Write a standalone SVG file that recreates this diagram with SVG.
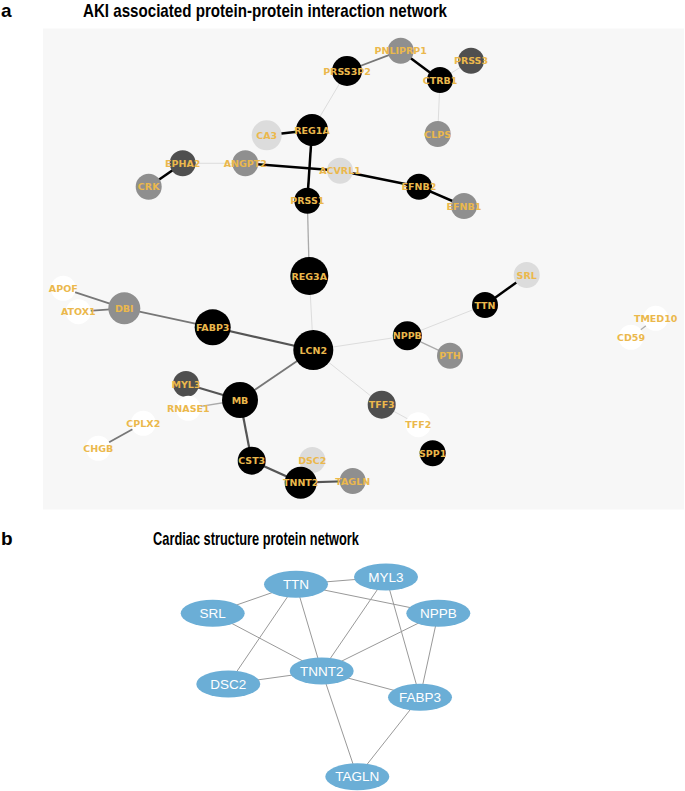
<svg xmlns="http://www.w3.org/2000/svg" width="685" height="791" viewBox="0 0 685 791">
<style>
.title{font-family:"Liberation Sans",Arial,sans-serif;font-weight:bold;font-size:19px;fill:#000}
.lbl{font-family:"DejaVu Sans",sans-serif;font-weight:bold;font-size:9.5px;fill:#ebb84c;text-anchor:middle;dominant-baseline:central}
.blk{fill:#000}.dk{fill:#4f4f4f}.md{fill:#8f8f8f}.lt{fill:#dcdcdc}.wh{fill:#fff}
.e0{stroke:#000;stroke-width:2.5}
.e1{stroke:#555;stroke-width:2.2}
.e2{stroke:#777;stroke-width:1.8}
.e3{stroke:#aaa;stroke-width:1.3}
.e4{stroke:#ddd;stroke-width:1}
.bl line{stroke:#999;stroke-width:1}
.bn ellipse{fill:#6baed6}
.bt{font-family:"Liberation Sans",Arial,sans-serif;font-size:13.5px;fill:#fff;text-anchor:middle;dominant-baseline:central}
</style>
<rect width="685" height="791" fill="#fff"/>
<text class="title" x="1" y="17">a</text>
<text class="title" x="83" y="17" textLength="364" lengthAdjust="spacingAndGlyphs">AKI associated protein-protein interaction network</text>
<rect x="43" y="28.5" width="641" height="481" fill="#f7f7f7"/>
<g id="edges-a" fill="none">
<line class="e2" x1="347" y1="71" x2="400.7" y2="50.7"/>
<line class="e0" x1="400.7" y1="50.7" x2="440" y2="80"/>
<line class="e4" x1="440" y1="80" x2="471" y2="60.7"/>
<line class="e4" x1="440" y1="80" x2="437.7" y2="134"/>
<line class="e4" x1="347" y1="71" x2="312" y2="130"/>
<line class="e0" x1="266.7" y1="135.3" x2="312" y2="130"/>
<line class="e0" x1="312" y1="130" x2="307.3" y2="200.7"/>
<line class="e0" x1="245.3" y1="163.3" x2="340" y2="170.7"/>
<line class="e0" x1="340" y1="170.7" x2="419" y2="186.7"/>
<line class="e4" x1="182.7" y1="163.3" x2="245.3" y2="163.3"/>
<line class="e0" x1="182.7" y1="163.3" x2="148.7" y2="186.7"/>
<line class="e0" x1="419" y1="186.7" x2="464" y2="206"/>
<line class="e3" x1="307.3" y1="200.7" x2="309.3" y2="276"/>
<line class="e4" x1="309.3" y1="276" x2="313.3" y2="350"/>
<line class="e2" x1="63.3" y1="288.3" x2="124.3" y2="308.3"/>
<line class="e2" x1="78.3" y1="311.7" x2="124.3" y2="308.3"/>
<line class="e2" x1="124.3" y1="308.3" x2="212.7" y2="327.3"/>
<line class="e1" x1="212.7" y1="327.3" x2="313.3" y2="350"/>
<line class="e2" x1="313.3" y1="350" x2="240" y2="400"/>
<line class="e1" x1="186" y1="384" x2="240" y2="400"/>
<line class="e3" x1="188.3" y1="408.3" x2="240" y2="400"/>
<line class="e0" x1="526.7" y1="275" x2="485" y2="305"/>
<line class="e4" x1="485" y1="305" x2="407.3" y2="335.7"/>
<line class="e4" x1="407.3" y1="335.7" x2="313.3" y2="350"/>
<line class="e3" x1="407.3" y1="335.7" x2="450" y2="355.7"/>
<line class="e4" x1="313.3" y1="350" x2="381.7" y2="404.7"/>
<line class="e4" x1="381.7" y1="404.7" x2="418.3" y2="424.7"/>
<line class="e3" x1="655.7" y1="318.3" x2="631" y2="337.3"/>
<line class="e1" x1="240" y1="400" x2="251.7" y2="460.7"/>
<line class="e1" x1="251.7" y1="460.7" x2="300.7" y2="482.7"/>
<line class="e1" x1="300.7" y1="482.7" x2="352.7" y2="481"/>
<line class="e2" x1="143.3" y1="423.3" x2="98.3" y2="448.3"/>
</g>
<g id="n-PNLIPRP1"><circle class="md" cx="400.7" cy="50.7" r="13"/><text class="lbl" x="400.7" y="50.7">PNLIPRP1</text></g>
<g id="n-PRSS3P2"><circle class="blk" cx="347" cy="71" r="15"/><text class="lbl" x="347" y="71">PRSS3P2</text></g>
<g id="n-PRSS3"><circle class="dk" cx="471" cy="60.7" r="13"/><text class="lbl" x="471" y="60.7">PRSS3</text></g>
<g id="n-CTRB1"><circle class="blk" cx="440" cy="80" r="13"/><text class="lbl" x="440" y="80">CTRB1</text></g>
<g id="n-CA3"><circle class="lt" cx="266.7" cy="135.3" r="15"/><text class="lbl" x="266.7" y="135.3">CA3</text></g>
<g id="n-REG1A"><circle class="blk" cx="312" cy="130" r="16"/><text class="lbl" x="312" y="130">REG1A</text></g>
<g id="n-CLPS"><circle class="md" cx="437.7" cy="134" r="13"/><text class="lbl" x="437.7" y="134">CLPS</text></g>
<g id="n-EPHA2"><circle class="dk" cx="182.7" cy="163.3" r="13"/><text class="lbl" x="182.7" y="163.3">EPHA2</text></g>
<g id="n-ANGPT2"><circle class="md" cx="245.3" cy="163.3" r="13"/><text class="lbl" x="245.3" y="163.3">ANGPT2</text></g>
<g id="n-ACVRL1"><circle class="lt" cx="340" cy="170.7" r="13"/><text class="lbl" x="340" y="170.7">ACVRL1</text></g>
<g id="n-EFNB2"><circle class="blk" cx="419" cy="186.7" r="13"/><text class="lbl" x="419" y="186.7">EFNB2</text></g>
<g id="n-EFNB1"><circle class="md" cx="464" cy="206" r="13"/><text class="lbl" x="464" y="206">EFNB1</text></g>
<g id="n-CRK"><circle class="md" cx="148.7" cy="186.7" r="13"/><text class="lbl" x="148.7" y="186.7">CRK</text></g>
<g id="n-PRSS1"><circle class="blk" cx="307.3" cy="200.7" r="13"/><text class="lbl" x="307.3" y="200.7">PRSS1</text></g>
<g id="n-REG3A"><circle class="blk" cx="309.3" cy="276" r="19"/><text class="lbl" x="309.3" y="276">REG3A</text></g>
<g id="n-APOF"><circle class="wh" cx="63.3" cy="288.3" r="12.5"/><text class="lbl" x="63.3" y="288.3">APOF</text></g>
<g id="n-ATOX1"><circle class="wh" cx="78.3" cy="311.7" r="12.5"/><text class="lbl" x="78.3" y="311.7">ATOX1</text></g>
<g id="n-DBI"><circle class="md" cx="124.3" cy="308.3" r="16"/><text class="lbl" x="124.3" y="308.3">DBI</text></g>
<g id="n-FABP3"><circle class="blk" cx="212.7" cy="327.3" r="18"/><text class="lbl" x="212.7" y="327.3">FABP3</text></g>
<g id="n-LCN2"><circle class="blk" cx="313.3" cy="350" r="20"/><text class="lbl" x="313.3" y="350">LCN2</text></g>
<g id="n-MYL3"><circle class="dk" cx="186" cy="384" r="13"/><text class="lbl" x="186" y="384">MYL3</text></g>
<g id="n-MB"><circle class="blk" cx="240" cy="400" r="18"/><text class="lbl" x="240" y="400">MB</text></g>
<g id="n-RNASE1"><circle class="wh" cx="188.3" cy="408.3" r="12.5"/><text class="lbl" x="188.3" y="408.3">RNASE1</text></g>
<g id="n-SRL"><circle class="lt" cx="526.7" cy="275" r="13"/><text class="lbl" x="526.7" y="275">SRL</text></g>
<g id="n-TTN"><circle class="blk" cx="485" cy="305" r="13"/><text class="lbl" x="485" y="305">TTN</text></g>
<g id="n-NPPB"><circle class="blk" cx="407.3" cy="335.7" r="14.5"/><text class="lbl" x="407.3" y="335.7">NPPB</text></g>
<g id="n-PTH"><circle class="md" cx="450" cy="355.7" r="13"/><text class="lbl" x="450" y="355.7">PTH</text></g>
<g id="n-TMED10"><circle class="wh" cx="655.7" cy="318.3" r="12.5"/><text class="lbl" x="655.7" y="318.3">TMED10</text></g>
<g id="n-CD59"><circle class="wh" cx="631" cy="337.3" r="12.5"/><text class="lbl" x="631" y="337.3">CD59</text></g>
<g id="n-TFF3"><circle class="dk" cx="381.7" cy="404.7" r="14"/><text class="lbl" x="381.7" y="404.7">TFF3</text></g>
<g id="n-TFF2"><circle class="wh" cx="418.3" cy="424.7" r="12.5"/><text class="lbl" x="418.3" y="424.7">TFF2</text></g>
<g id="n-SPP1"><circle class="blk" cx="432.7" cy="453.3" r="13"/><text class="lbl" x="432.7" y="453.3">SPP1</text></g>
<g id="n-CPLX2"><circle class="wh" cx="143.3" cy="423.3" r="12.5"/><text class="lbl" x="143.3" y="423.3">CPLX2</text></g>
<g id="n-CHGB"><circle class="wh" cx="98.3" cy="448.3" r="12.5"/><text class="lbl" x="98.3" y="448.3">CHGB</text></g>
<g id="n-CST3"><circle class="blk" cx="251.7" cy="460.7" r="14"/><text class="lbl" x="251.7" y="460.7">CST3</text></g>
<g id="n-DSC2"><circle class="lt" cx="312.3" cy="460" r="13"/><text class="lbl" x="312.3" y="460">DSC2</text></g>
<g id="n-TNNT2"><circle class="blk" cx="300.7" cy="482.7" r="16"/><text class="lbl" x="300.7" y="482.7">TNNT2</text></g>
<g id="n-TAGLN"><circle class="md" cx="352.7" cy="481" r="13"/><text class="lbl" x="352.7" y="481">TAGLN</text></g>

<text class="title" x="1" y="545">b</text>
<text class="title" x="153" y="545" textLength="206" lengthAdjust="spacingAndGlyphs">Cardiac structure protein network</text>
<g id="edges-b" class="bl">
<line x1="296" y1="584.3" x2="386" y2="577"/>
<line x1="296" y1="584.3" x2="212.7" y2="613.3"/>
<line x1="296" y1="584.3" x2="438.3" y2="613.3"/>
<line x1="296" y1="584.3" x2="228.3" y2="684"/>
<line x1="296" y1="584.3" x2="321.7" y2="671"/>
<line x1="386" y1="577" x2="321.7" y2="671"/>
<line x1="386" y1="577" x2="420" y2="697.3"/>
<line x1="438.3" y1="613.3" x2="321.7" y2="671"/>
<line x1="438.3" y1="613.3" x2="420" y2="697.3"/>
<line x1="212.7" y1="613.3" x2="321.7" y2="671"/>
<line x1="228.3" y1="684" x2="321.7" y2="671"/>
<line x1="321.7" y1="671" x2="420" y2="697.3"/>
<line x1="321.7" y1="671" x2="357.3" y2="776.7"/>
<line x1="420" y1="697.3" x2="357.3" y2="776.7"/>
</g>
<g id="b-TTN" class="bn"><ellipse cx="296" cy="584.3" rx="32" ry="13.5"/><text class="bt" x="296" y="584.3">TTN</text></g>
<g id="b-MYL3" class="bn"><ellipse cx="386" cy="577" rx="32" ry="13.5"/><text class="bt" x="386" y="577">MYL3</text></g>
<g id="b-SRL" class="bn"><ellipse cx="212.7" cy="613.3" rx="32" ry="13.5"/><text class="bt" x="212.7" y="613.3">SRL</text></g>
<g id="b-NPPB" class="bn"><ellipse cx="438.3" cy="613.3" rx="32" ry="13.5"/><text class="bt" x="438.3" y="613.3">NPPB</text></g>
<g id="b-TNNT2" class="bn"><ellipse cx="321.7" cy="671" rx="32" ry="13.5"/><text class="bt" x="321.7" y="671">TNNT2</text></g>
<g id="b-DSC2" class="bn"><ellipse cx="228.3" cy="684" rx="32" ry="13.5"/><text class="bt" x="228.3" y="684">DSC2</text></g>
<g id="b-FABP3" class="bn"><ellipse cx="420" cy="697.3" rx="32" ry="13.5"/><text class="bt" x="420" y="697.3">FABP3</text></g>
<g id="b-TAGLN" class="bn"><ellipse cx="357.3" cy="776.7" rx="32" ry="13.5"/><text class="bt" x="357.3" y="776.7">TAGLN</text></g>
</svg>
